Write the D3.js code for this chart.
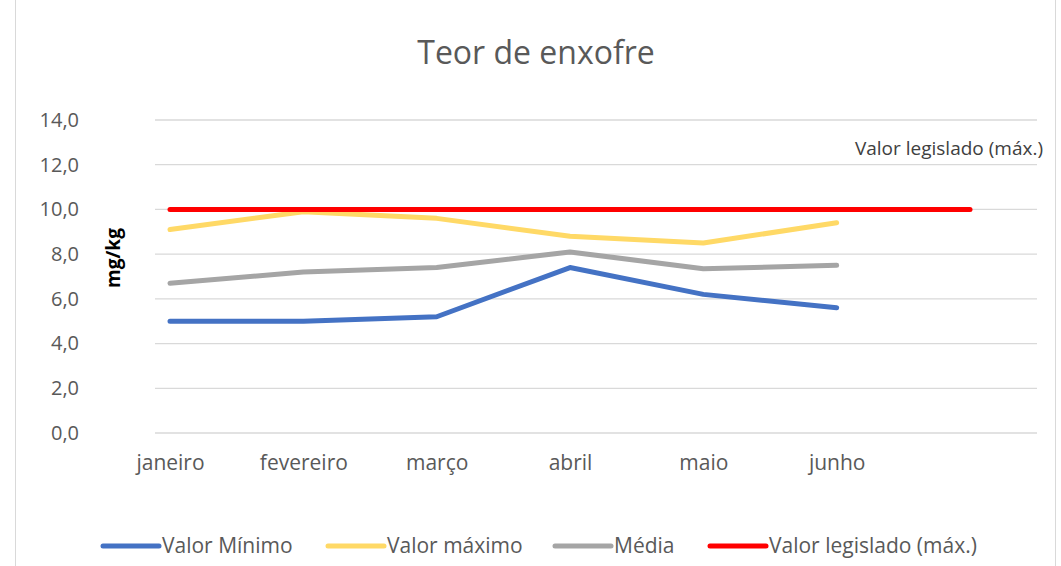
<!DOCTYPE html>
<html>
<head>
<meta charset="utf-8">
<script src="https://cdn.jsdelivr.net/npm/d3@7"></script>
<style>
  body { margin: 0; background: #fff; }
  svg { display: block; font-family: "Open Sans", "Liberation Sans", sans-serif; }
  .tick text { fill: #595959; }
</style>
</head>
<body>
<svg id="chart" width="1061" height="566"></svg>
<script>
// categories (last one is an empty slot, only the legislated line reaches it)
const months = ["janeiro", "fevereiro", "março", "abril", "maio", "junho", ""];
const valorMinimo = [5.0, 5.0, 5.2, 7.4, 6.2, 5.6];
const valorMaximo = [9.1, 9.9, 9.6, 8.8, 8.5, 9.4];
const media = [6.7, 7.2, 7.4, 8.1, 7.35, 7.5];
const valorLegislado = [10, 10, 10, 10, 10, 10, 10];
const yTicks = [0, 2, 4, 6, 8, 10, 12, 14];

const series = [
    { name: "Valor Mínimo", values: valorMinimo, color: "#4472C4" },
    { name: "Valor máximo", values: valorMaximo, color: "#FFD966" },
    { name: "Média", values: media, color: "#A5A5A5" },
    { name: "Valor legislado (máx.)", values: valorLegislado, color: "#FF0000" }
];

const svg = d3.select("#chart");

// chart border
svg.append("rect")
    .attr("x", 15.5).attr("y", -1)
    .attr("width", 1040).attr("height", 570)
    .attr("fill", "none")
    .attr("stroke", "#D9D9D9");

const plotLeft = 155, plotRight = 1037;

const x = d3.scalePoint()
    .domain(months)
    .range([170, 970]);

const y = d3.scaleLinear()
    .domain([0, 14])
    .range([433, 120]);

// gridlines
svg.append("g")
    .selectAll("line")
    .data(yTicks)
    .join("line")
    .attr("x1", plotLeft).attr("x2", plotRight)
    .attr("y1", d => y(d)).attr("y2", d => y(d))
    .attr("stroke", "#D9D9D9")
    .attr("stroke-width", 1.3);

// y axis labels
const yAxis = d3.axisLeft(y)
    .tickValues(yTicks)
    .tickFormat(d => d3.format(".1f")(d).replace(".", ","))
    .tickSize(0)
    .tickPadding(0);

svg.append("g")
    .attr("transform", "translate(79,0)")
    .call(yAxis)
    .call(g => g.select(".domain").remove())
    .selectAll("text")
    .attr("font-size", 20)
    .attr("font-family", "'Open Sans', sans-serif");

// x axis labels
const xAxis = d3.axisBottom(x).tickSize(0).tickPadding(0);
svg.append("g")
    .attr("transform", "translate(0,455)")
    .call(xAxis)
    .call(g => g.select(".domain").remove())
    .selectAll("text")
    .attr("font-size", 21)
    .attr("font-family", "'Open Sans', sans-serif");

// axis title
svg.append("text")
    .attr("transform", "translate(120,258) rotate(-90)")
    .attr("text-anchor", "middle")
    .attr("font-size", 19)
    .attr("font-weight", "bold")
    .attr("fill", "#000")
    .text("mg/kg");

// title
svg.append("text")
    .attr("x", 536).attr("y", 64)
    .attr("text-anchor", "middle")
    .attr("font-size", 32)
    .attr("fill", "#595959")
    .text("Teor de enxofre");

// lines
const line = d3.line()
    .x((d, i) => x(months[i]))
    .y(d => y(d));

svg.append("g")
    .selectAll("path")
    .data(series)
    .join("path")
    .attr("d", d => line(d.values))
    .attr("fill", "none")
    .attr("stroke", d => d.color)
    .attr("stroke-width", 5)
    .attr("stroke-linecap", "round")
    .attr("stroke-linejoin", "round");

// data label on the legislated line
svg.append("text")
    .attr("x", 1043).attr("y", 155)
    .attr("text-anchor", "end")
    .attr("font-size", 19)
    .attr("fill", "#404040")
    .text("Valor legislado (máx.)");

// legend
const legendX = [103, 328, 555, 710];
const legend = svg.append("g").attr("transform", "translate(0,546)");
const items = legend.selectAll("g")
    .data(series)
    .join("g")
    .attr("transform", (d, i) => `translate(${legendX[i]},0)`);

items.append("line")
    .attr("x1", 0).attr("x2", 56)
    .attr("stroke", d => d.color)
    .attr("stroke-width", 5)
    .attr("stroke-linecap", "round");

items.append("text")
    .attr("x", 59).attr("dy", "0.35em")
    .attr("font-size", 21)
    .attr("fill", "#595959")
    .text(d => d.name);
</script>
</body>
</html>
